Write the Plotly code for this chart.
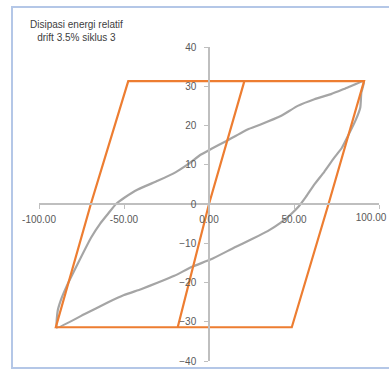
import plotly.graph_objects as go

# Idealised elasto-plastic loop (orange)
ideal_x = [-18.4, 0.0, 20.8, 91.2, 70.3, 48.7, -90.1, -69.5, -47.5, 20.8]
ideal_y = [-31.4, 0.0, 31.3, 31.3, 0.0, -31.4, -31.4, 0.0, 31.3, 31.3]

# Measured hysteresis loop (gray): unloading branch then reloading branch
test_x = [91.2, 81.6, 71.8, 62.0, 52.2, 42.2, 30.0, 22.7, 10.0, 1.2, -4.7,
          -12.5, -20.0, -30.2, -41.9, -49.8, -54.7, -59.6, -64.0, -69.4,
          -77.3, -84.1, -87.0, -89.0, -89.5,
          -73.4, -59.6, -50.0, -40.0, -30.0, -20.4, -10.0, 1.2, 14.9, 25.0,
          34.5, 42.0, 48.2, 53.0, 57.0, 62.0, 67.8, 73.7, 78.0, 82.5, 86.4,
          89.0, 89.6, 91.2]
test_y = [31.3, 29.7, 28.0, 26.7, 25.0, 22.4, 20.2, 19.0, 16.0, 14.0, 12.6,
          10.1, 8.0, 5.9, 3.7, 1.6, 0.0, -2.6, -5.0, -8.6,
          -15.3, -21.3, -24.3, -27.2, -31.5,
          -28.1, -25.1, -23.2, -21.7, -20.0, -18.3, -16.0, -14.1, -11.1, -9.0,
          -6.9, -4.8, -2.6, -0.5, 1.8, 5.0, 8.2, 11.8, 14.2, 18.0, 21.5,
          24.6, 28.3, 31.3]

x_ticks = [-100, -50, 0, 50, 100]
x_tick_text = ["-100.00", "-50.00", "0.00", "50.00", "100.00"]
y_ticks = [-40, -30, -20, -10, 0, 10, 20, 30, 40]

title_lines = ["Disipasi energi relatif", "drift 3.5% siklus 3"]

W, H = 389, 369
ML, MR, MT, MB = 39, 10, 47, 8
PW, PH = W - ML - MR, H - MT - MB


def px_to_paper_x(px):
    return (px - ML) / PW


def px_to_paper_y(py):
    return (H - MB - py) / PH


fig = go.Figure()
fig.add_trace(go.Scatter(x=test_x, y=test_y, mode="lines",
                         line=dict(color="#A5A5A5", width=2.2, shape="spline",
                                   smoothing=0.4),
                         hoverinfo="skip", showlegend=False))
# orange loop sits on the overlay x-axis (same range) that carries the end label
fig.add_trace(go.Scatter(x=ideal_x, y=ideal_y, mode="lines", xaxis="x2",
                         line=dict(color="#ED7D31", width=2.2),
                         hoverinfo="skip", showlegend=False))

axis_font = dict(family="Liberation Sans, Arial, sans-serif", size=10, color="#595959")

# main x-axis: all ticks, labels except the last one
main_text = x_tick_text[:-1] + [""]

fig.update_layout(
    width=W, height=H,
    margin=dict(l=ML, r=MR, t=MT, b=MB, pad=0, autoexpand=False),
    paper_bgcolor="white", plot_bgcolor="white",
    xaxis=dict(range=[-100, 100], tickvals=x_ticks, ticktext=main_text,
               anchor="free", position=0.5, showline=True, linecolor="#BFBFBF",
               linewidth=1.5, ticks="outside", ticklen=4, tickcolor="#BFBFBF",
               showgrid=False, zeroline=False, tickfont=axis_font,
               ticklabelstandoff=2, ticklabeloverflow="allow",
               automargin=False, fixedrange=True),
    xaxis2=dict(range=[-100, 100], overlaying="x", tickvals=x_ticks[-1:],
                ticktext=x_tick_text[-1:], anchor="free", position=0.5,
                side="bottom", showline=False, ticks="", ticklen=4,
                showgrid=False, zeroline=False, tickfont=axis_font,
                ticklabelstandoff=6, ticklabelshift=-8,
                ticklabeloverflow="allow", automargin=False, fixedrange=True),
    yaxis=dict(range=[-40, 40], tickvals=y_ticks,
               anchor="free", position=0.5, showline=True, linecolor="#BFBFBF",
               linewidth=1.5, ticks="outside", ticklen=4, tickcolor="#BFBFBF",
               showgrid=False, zeroline=False, tickfont=axis_font,
               ticklabelstandoff=6, ticklabeloverflow="allow",
               automargin=False, fixedrange=True),
    shapes=[dict(type="rect", xref="paper", yref="paper",
                 x0=px_to_paper_x(12), x1=px_to_paper_x(395),
                 y0=px_to_paper_y(368), y1=px_to_paper_y(7),
                 line=dict(color="#B4C7E7", width=2), layer="below")],
    annotations=[dict(text="<br>".join(title_lines), xref="paper", yref="paper",
                      x=px_to_paper_x(76), y=px_to_paper_y(17),
                      xanchor="center", yanchor="top", showarrow=False,
                      align="center",
                      font=dict(family="Liberation Sans, Arial, sans-serif",
                                size=10, color="#404040"))],
)

fig.write_html("out.html")
